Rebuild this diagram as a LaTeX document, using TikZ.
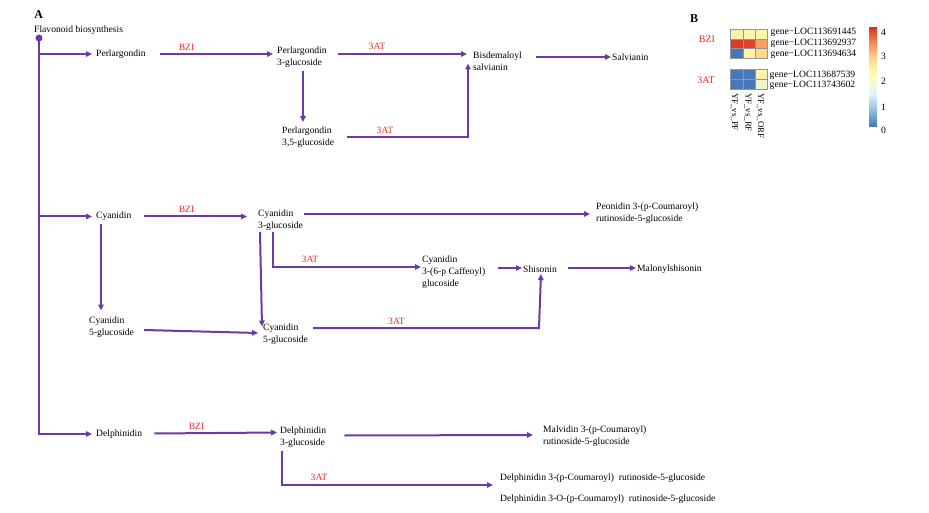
\documentclass[tikz,border=0pt]{standalone}
\usepackage{fontspec}
\setmainfont{Liberation Serif}
\usetikzlibrary{arrows.meta,calc}
\definecolor{pur}{RGB}{110,56,166}
\definecolor{labred}{RGB}{240,40,40}
\definecolor{hgrid}{RGB}{150,150,150}
\definecolor{h11}{HTML}{FBF1A9}\definecolor{h12}{HTML}{FCF3AE}\definecolor{h13}{HTML}{FBF3AE}
\definecolor{h21}{HTML}{DC3A2C}\definecolor{h22}{HTML}{DE4230}\definecolor{h23}{HTML}{F8A162}
\definecolor{h31}{HTML}{4677B6}\definecolor{h32}{HTML}{FDF1AB}\definecolor{h33}{HTML}{FDDA8B}
\definecolor{h41}{HTML}{4A78B6}\definecolor{h42}{HTML}{4A78B6}\definecolor{h43}{HTML}{FCF2AE}
\definecolor{h51}{HTML}{4A78B6}\definecolor{h52}{HTML}{4A78B6}\definecolor{h53}{HTML}{EEF3CF}
\definecolor{cb0}{HTML}{4575B4}\definecolor{cb1}{HTML}{91BFDB}\definecolor{cb2}{HTML}{E0F3F8}
\definecolor{cb3}{HTML}{FFFFBF}\definecolor{cb4}{HTML}{FEE090}\definecolor{cb5}{HTML}{FC8D59}
\definecolor{cb6}{HTML}{D73027}
\pgfdeclareverticalshading{cbar}{100bp}{color(0bp)=(cb0); color(25bp)=(cb0); color(33.33bp)=(cb1); color(41.67bp)=(cb2); color(50bp)=(cb3); color(58.33bp)=(cb4); color(66.67bp)=(cb5); color(75bp)=(cb6); color(100bp)=(cb6)}
\begin{document}
\begin{tikzpicture}[x=1pt,y=-1pt,
  txt/.style={anchor=west,inner sep=0pt,align=left,font=\fontsize{9.6}{11.8}\selectfont},
  lbl/.style={inner sep=0pt,text=labred,font=\fontsize{9.6}{11.8}\selectfont},
  arr/.style={draw=pur,line width=2pt,line join=miter,-{Triangle[length=6pt,width=5.5pt]}},
  cell/.style={draw=hgrid,line width=0.7pt}]
\useasboundingbox (0,0) rectangle (929,513);
% panel letters
\node[inner sep=0pt,font=\bfseries\fontsize{12}{14}\selectfont] (pa) at (38.7,15) {A};
\node[inner sep=0pt,font=\bfseries\fontsize{12}{14}\selectfont] (pb) at (694,18.3) {B};
% text nodes
\node[txt] (flav) at (34,30) {Flavonoid biosynthesis};
\node[fill=pur,circle,inner sep=0pt,minimum size=7pt] (dot) at (39,38) {};
\node[txt] (perl) at (96,54) {Perlargondin};
\node[txt] (p3g) at (277,57) {Perlargondin\\3-glucoside};
\node[txt] (p35g) at (282,137) {Perlargondin\\3,5-glucoside};
\node[txt] (bis) at (473,61.5) {Bisdemaloyl\\salvianin};
\node[txt] (salv) at (612,57) {Salvianin};
\node[txt] (cya) at (96,216.5) {Cyanidin};
\node[txt] (c3g) at (258,220.5) {Cyanidin\\3-glucoside};
\node[txt] (peo) at (596,213) {Peonidin 3-(p-Coumaroyl)\\rutinoside-5-glucoside};
\node[txt] (c5g) at (89,327.5) {Cyanidin\\5-glucoside};
\node[txt] (c5g2) at (263,334.5) {Cyanidin\\5-glucoside};
\node[txt] (caf) at (422,272) {Cyanidin\\3-(6-p Caffeoyl)\\glucoside};
\node[txt] (shi) at (523,269) {Shisonin};
\node[txt] (mal) at (637,269) {Malonylshisonin};
\node[txt] (del) at (96,434) {Delphinidin};
\node[txt] (d3g) at (280,437.5) {Delphinidin\\3-glucoside};
\node[txt] (malv) at (543,436) {Malvidin 3-(p-Coumaroyl)\\rutinoside-5-glucoside};
\node[txt] (dp1) at (500,478.5) {Delphinidin 3-(p-Coumaroyl)\ \ rutinoside-5-glucoside};
\node[txt] (dp2) at (500,499) {Delphinidin 3-O-(p-Coumaroyl)\ \ rutinoside-5-glucoside};
% enzyme labels
\node[lbl] (l1) at (186.5,47) {BZI};
\node[lbl] (l2) at (377,46.5) {3AT};
\node[lbl] (l3) at (385,130) {3AT};
\node[lbl] (l4) at (186.5,209) {BZI};
\node[lbl] (l5) at (310,259.5) {3AT};
\node[lbl] (l6) at (396.5,321) {3AT};
\node[lbl] (l7) at (196.5,426) {BZI};
\node[lbl] (l8) at (319,477.5) {3AT};
% trunk and branches
\draw[arr] (dot.center) -- (dot.center |- del.west) -- ($(del.west)+(-4,0)$);
\draw[arr] (dot.center |- perl.west) -- ($(perl.west)+(-4,0)$);
\draw[arr] (dot.center |- cya.west) -- ($(cya.west)+(-4,0)$);
% pelargonidin branch
\draw[arr] ($(perl.east)+(14,0)$) -- ($(p3g.west)+(-4,-3)$);
\draw[arr] ($(p3g.west)+(26,14)$) -- ($(p35g.west)+(21,-15)$);
\draw[arr] ($(p3g.east)+(11,-3)$) -- ($(bis.west)+(-6,-7.5)$);
\draw[arr] ($(p35g.east)+(13,0)$) -| ($(bis.west)+(-5,2)$);
\draw[arr] ($(bis.east)+(14,-4.5)$) -- ($(salv.west)+(-1,0)$);
% cyanidin branch
\draw[arr] ($(cya.east)+(12,0)$) -- ($(c3g.west)+(-11,-4)$);
\draw[arr] ($(c3g.east)+(1,-6.5)$) -- ($(peo.west)+(-6,1)$);
\draw[arr] ($(cya.west)+(5,8)$) -- ($(c5g.west)+(12,-17)$);
\draw[arr] ($(c5g.east)+(10,2.5)$) -- ($(c5g2.west)+(-5,-1.5)$);
\draw[arr] ($(c3g.west)+(2,11.5)$) -- ($(c5g2.west)+(-1,-8)$);
\draw[arr] ($(c3g.west)+(15,11.5)$) |- ($(caf.west)+(-1,-5)$);
\draw[arr] ($(caf.east)+(13,-4)$) -- ($(shi.west)+(-1,-1)$);
\draw[arr] ($(shi.east)+(11,-1)$) -- ($(mal.west)+(-1,-1)$);
\draw[arr] ($(c5g2.east)+(5,-6.5)$) -- ($(shi.west)+(16,59)$) -- ($(shi.west)+(18,5)$);
% delphinidin branch
\draw[arr] ($(del.east)+(12,-0.5)$) -- ($(d3g.west)+(-3,-5)$);
\draw[arr] ($(d3g.east)+(18,-2)$) -- ($(malv.west)+(-10,-1)$);
\draw[arr] ($(d3g.west)+(2,13)$) |- ($(dp1.west)+(-7,6.5)$);
% panel B heatmap
\node[lbl,font=\fontsize{10}{12}\selectfont] (hbzi) at (707,39.5) {BZI};
\node[lbl,font=\fontsize{10}{12}\selectfont] (h3at) at (706,80) {3AT};
\foreach \r/\y in {1/29.3,2/39,3/48.7}
  \foreach \c/\x in {1/730.7,2/742.9,3/755.1}
    \filldraw[cell,fill=h\r\c] (\x,\y) rectangle ++(12.2,9.67);
\foreach \r/\y in {4/69,5/79.15}
  \foreach \c/\x in {1/730.7,2/742.9,3/755.1}
    \filldraw[cell,fill=h\r\c] (\x,\y) rectangle ++(12.2,10.15);
\node[txt] (g1) at (770.5,32.7) {gene−LOC113691445};
\node[txt] (g2) at (770.5,43.3) {gene−LOC113692937};
\node[txt] (g3) at (770.5,54.3) {gene−LOC113694634};
\node[txt] (g4) at (769.5,75) {gene−LOC113687539};
\node[txt] (g5) at (769.5,85) {gene−LOC113743602};
\node[txt,rotate=-90,font=\fontsize{8.8}{10}\selectfont] (cl1) at (734.5,93) {YF\_vs\_PF};
\node[txt,rotate=-90,font=\fontsize{8.8}{10}\selectfont] (cl2) at (748,93) {YF\_vs\_RF};
\node[txt,rotate=-90,font=\fontsize{8.8}{10}\selectfont] (cl3) at (760.5,93) {YF\_vs\_ORF};
% colour bar
\shade[shading=cbar] (869,27.3) rectangle (877,126.7);
\node[txt] (cb4) at (881,32.7) {4};
\node[txt] (cb3) at (881,56) {3};
\node[txt] (cb2) at (881,81.7) {2};
\node[txt] (cb1) at (881,107.3) {1};
\node[txt] (cb0) at (881,130) {0};
\end{tikzpicture}
\end{document}
